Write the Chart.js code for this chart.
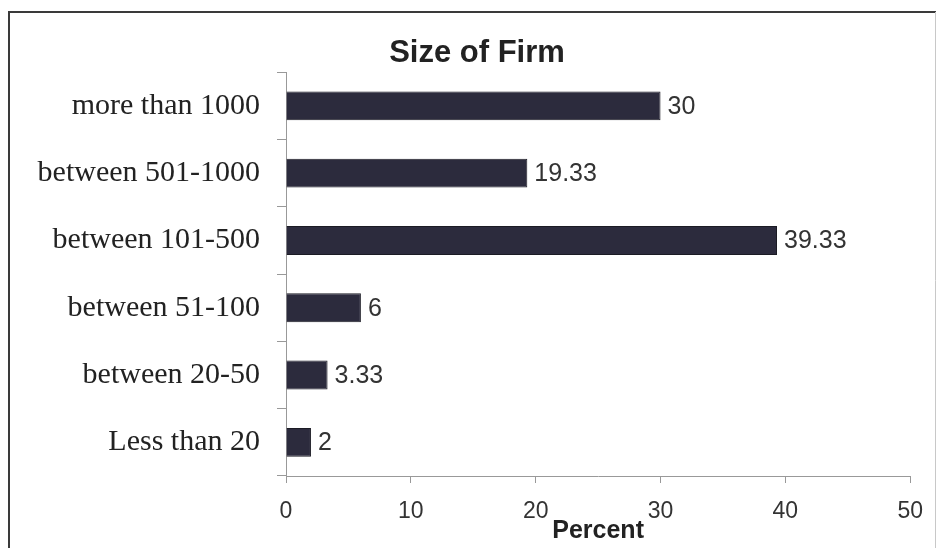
<!DOCTYPE html>
<html>
<head>
<meta charset="utf-8">
<script src="https://cdn.jsdelivr.net/npm/chart.js@4"></script>
<style>
  html, body { margin: 0; padding: 0; background: #fff; }
  #wrap { width: 938px; height: 548px; }
</style>
</head>
<body>
<div id="wrap"><canvas id="chart" width="938" height="548"></canvas></div>
<script>
const categories = ['more than 1000', 'between 501-1000', 'between 101-500', 'between 51-100', 'between 20-50', 'Less than 20']
const percent = [30, 19.33, 39.33, 6, 3.33, 2]
const xTicks = [0, 10, 20, 30, 40, 50]

// value labels right of each bar, placed from the bar elements
const valueLabels = {
  id: 'valueLabels',
  afterDatasetsDraw (chart) {
    const ctx = chart.ctx
    const meta = chart.getDatasetMeta(0)
    ctx.save()
    ctx.font = '25px "Liberation Sans", Arial, sans-serif'
    ctx.fillStyle = '#333'
    ctx.textAlign = 'left'
    ctx.textBaseline = 'middle'
    meta.data.forEach((bar, i) => {
      ctx.fillText(String(percent[i]), bar.x + 7, bar.y + 1)
    })
    ctx.restore()
  }
}

// outer frame of the picture
const frame = {
  id: 'frame',
  afterDraw (chart) {
    const ctx = chart.ctx
    ctx.save()
    ctx.strokeStyle = '#3a3a3a'
    ctx.lineWidth = 2
    ctx.beginPath()
    ctx.moveTo(9, 560)
    ctx.lineTo(9, 12)
    ctx.lineTo(936, 12)
    ctx.stroke()
    ctx.strokeStyle = '#c8c8c8'
    ctx.lineWidth = 1
    ctx.beginPath()
    ctx.moveTo(935.5, 12)
    ctx.lineTo(935.5, 560)
    ctx.stroke()
    ctx.restore()
  }
}

new Chart(document.getElementById('chart'), {
  type: 'bar',
  data: {
    labels: categories,
    datasets: [{
      data: percent,
      backgroundColor: '#2c2b3d',
      borderColor: '#1b1b24',
      borderWidth: 1,
      categoryPercentage: 1,
      barPercentage: 0.43
    }]
  },
  options: {
    indexAxis: 'y',
    responsive: false,
    animation: false,
    layout: { padding: { left: 32, right: 16, top: 0, bottom: 0 } },
    plugins: {
      legend: { display: false },
      tooltip: { enabled: false },
      title: {
        display: true,
        text: 'Size of Firm',
        color: '#222',
        font: { family: '"Liberation Sans", Arial, sans-serif', size: 31, weight: 'bold', lineHeight: 1.2 },
        padding: { top: 35, bottom: 0 }
      }
    },
    scales: {
      x: {
        min: 0,
        max: 50,
        afterFit (scale) { scale.height = 72 },
        afterBuildTicks (scale) { scale.ticks = xTicks.map(v => ({ value: v })) },
        border: { color: '#999', width: 1 },
        grid: { drawOnChartArea: false, drawTicks: true, tickLength: 7, color: '#999' },
        ticks: {
          color: '#333',
          padding: 15,
          font: { family: '"Liberation Sans", Arial, sans-serif', size: 23 }
        },
        title: {
          display: true,
          text: 'Percent',
          color: '#222',
          font: { family: '"Liberation Sans", Arial, sans-serif', size: 25, weight: 'bold', lineHeight: 1 },
          padding: { top: 0, bottom: 4 }
        }
      },
      y: {
        afterFit (scale) { scale.width = 254 },
        border: { color: '#999', width: 1 },
        grid: { drawOnChartArea: false, drawTicks: true, tickLength: 9, color: '#999', offset: true },
        ticks: {
          color: '#222',
          padding: 17,
          font: { family: '"Liberation Serif", "Times New Roman", serif', size: 30 }
        }
      }
    }
  },
  plugins: [valueLabels, frame]
})
</script>
</body>
</html>
